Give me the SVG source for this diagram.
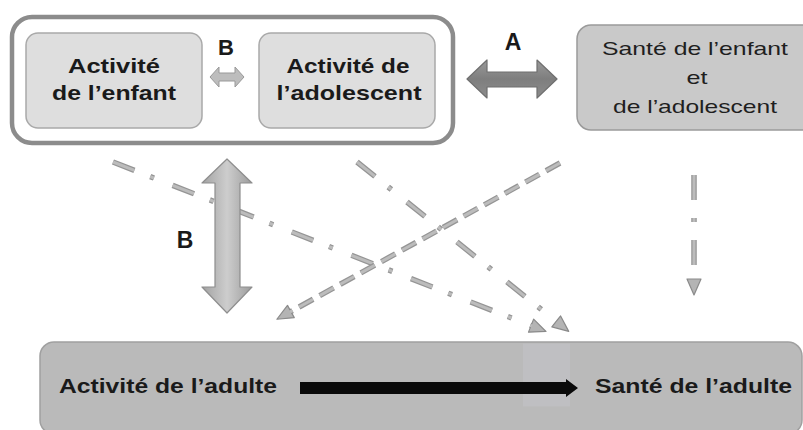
<svg xmlns="http://www.w3.org/2000/svg" width="803" height="430" viewBox="0 0 803 430">
  <style>
    .bold { font-family: "Liberation Sans", Arial, sans-serif; font-weight: bold; fill: #1a1a1a; }
    .reg { font-family: "Liberation Sans", Arial, sans-serif; fill: #1f1f1f; }
    .inner { fill: #dedede; stroke: #a9a9a9; stroke-width: 1.5; }
    .link-out { fill: none; stroke: #959595; stroke-width: 5.5; }
    .link-in { fill: none; stroke: #bcbcbc; stroke-width: 3; }
    .dashdot { stroke-dasharray: 23 17 4 20; }
    .dash { stroke-dasharray: 16 7.5; }
    .vdashdot { stroke-dasharray: 25 18 4 18; }
  </style>
  <defs>
    <marker id="head" viewBox="0 0 18 16" refX="2" refY="8" markerWidth="18" markerHeight="16" markerUnits="userSpaceOnUse" orient="auto">
      <path d="M1,1 L17,8 L1,15 z" fill="#b4b4b4" stroke="#8a8a8a" stroke-width="1.2" stroke-linejoin="round"/>
    </marker>
    <linearGradient id="gradV" x1="0" y1="0" x2="1" y2="0">
      <stop offset="0" stop-color="#a2a2a2"/>
      <stop offset="0.5" stop-color="#cdcdcd"/>
      <stop offset="1" stop-color="#9c9c9c"/>
    </linearGradient>
    <linearGradient id="gradA" x1="0" y1="0" x2="0" y2="1">
      <stop offset="0" stop-color="#9a9a9a"/>
      <stop offset="0.5" stop-color="#7e7e7e"/>
      <stop offset="1" stop-color="#8c8c8c"/>
    </linearGradient>
  </defs>

  <!-- childhood / adolescence activity frame -->
  <g id="activity-frame">
    <rect x="12" y="17" width="441" height="126" rx="20" fill="#ffffff" stroke="#8c8c8c" stroke-width="4.5"/>
  </g>

  <g id="child-activity">
    <rect class="inner" x="26" y="33" width="176" height="95" rx="12"/>
    <text class="bold" x="114" y="73" font-size="21" text-anchor="middle" textLength="92" lengthAdjust="spacingAndGlyphs">Activité</text>
    <text class="bold" x="114" y="100" font-size="21" text-anchor="middle" textLength="124" lengthAdjust="spacingAndGlyphs">de l’enfant</text>
  </g>

  <g id="teen-activity">
    <rect class="inner" x="259" y="33" width="176" height="95" rx="12"/>
    <text class="bold" x="348" y="73" font-size="21" text-anchor="middle" textLength="123" lengthAdjust="spacingAndGlyphs">Activité de</text>
    <text class="bold" x="349" y="100" font-size="21" text-anchor="middle" textLength="145" lengthAdjust="spacingAndGlyphs">l’adolescent</text>
  </g>

  <g id="youth-health">
    <rect x="577" y="25" width="240" height="105" rx="14" fill="#c9c9c9" stroke="#9a9a9a" stroke-width="1.5"/>
    <text class="reg" x="695" y="55" font-size="19" text-anchor="middle" textLength="186" lengthAdjust="spacingAndGlyphs">Santé de l’enfant</text>
    <text class="reg" x="697" y="84" font-size="19" text-anchor="middle" textLength="21" lengthAdjust="spacingAndGlyphs">et</text>
    <text class="reg" x="695" y="113" font-size="19" text-anchor="middle" textLength="164" lengthAdjust="spacingAndGlyphs">de l’adolescent</text>
  </g>

  <g id="adult">
    <rect x="40" y="342" width="762" height="92" rx="14" fill="#bababa" stroke="#a0a0a0" stroke-width="1.5"/>
    <rect x="523" y="343.5" width="47" height="63" fill="#c8c8d0" opacity="0.4"/>
    <text class="bold" x="59" y="393" font-size="21" textLength="218" lengthAdjust="spacingAndGlyphs">Activité de l’adulte</text>
    <text class="bold" x="595" y="393" font-size="21" textLength="197" lengthAdjust="spacingAndGlyphs">Santé de l’adulte</text>
  </g>

  <!-- connectors -->
  <g id="connectors">
    <!-- childhood activity to adult health -->
    <path class="link-out dashdot" d="M113,162 L532,326" marker-end="url(#head)"/>
    <path class="link-in dashdot" d="M113,162 L532,326"/>
    <!-- adolescent activity to adult health -->
    <path class="link-out dashdot" d="M357,162 L557,322" marker-end="url(#head)"/>
    <path class="link-in dashdot" d="M357,162 L557,322"/>
    <!-- youth health to adult activity -->
    <path class="link-out dash" d="M560,163 L290,312" marker-end="url(#head)"/>
    <path class="link-in dash" d="M560,163 L290,312"/>
    <!-- youth health to adult health -->
    <path class="link-out vdashdot" d="M694,175 L694,280" marker-end="url(#head)"/>
    <path class="link-in vdashdot" d="M694,175 L694,280"/>

    <!-- B : child activity and adolescent activity -->
    <polygon points="210,77 219,67 219,73 235,73 235,67 244,77 235,87 235,81 219,81 219,87" fill="#bdbdbd" stroke="#999999" stroke-width="1"/>
    <text class="bold" x="226" y="55" font-size="22" text-anchor="middle">B</text>

    <!-- A : activity and youth health -->
    <polygon points="467,79 487,60 487,72 537,72 537,60 557,79 537,98 537,87 487,87 487,98" fill="url(#gradA)" stroke="#6f6f6f" stroke-width="1.2" stroke-linejoin="round"/>
    <text class="bold" x="513" y="50" font-size="23" text-anchor="middle">A</text>

    <!-- B : youth activity and adult activity -->
    <polygon points="227,159 252,183 240,183 240,287 252,287 227,313 202,287 215,287 215,183 202,183" fill="url(#gradV)" stroke="#8e8e8e" stroke-width="1.2" stroke-linejoin="round"/>
    <text class="bold" x="185" y="248" font-size="23" text-anchor="middle">B</text>

    <!-- adult activity to adult health -->
    <polygon points="300,382 566,382 566,379 578,388 566,397 566,394 300,394" fill="#0a0a0a"/>
  </g>
</svg>
